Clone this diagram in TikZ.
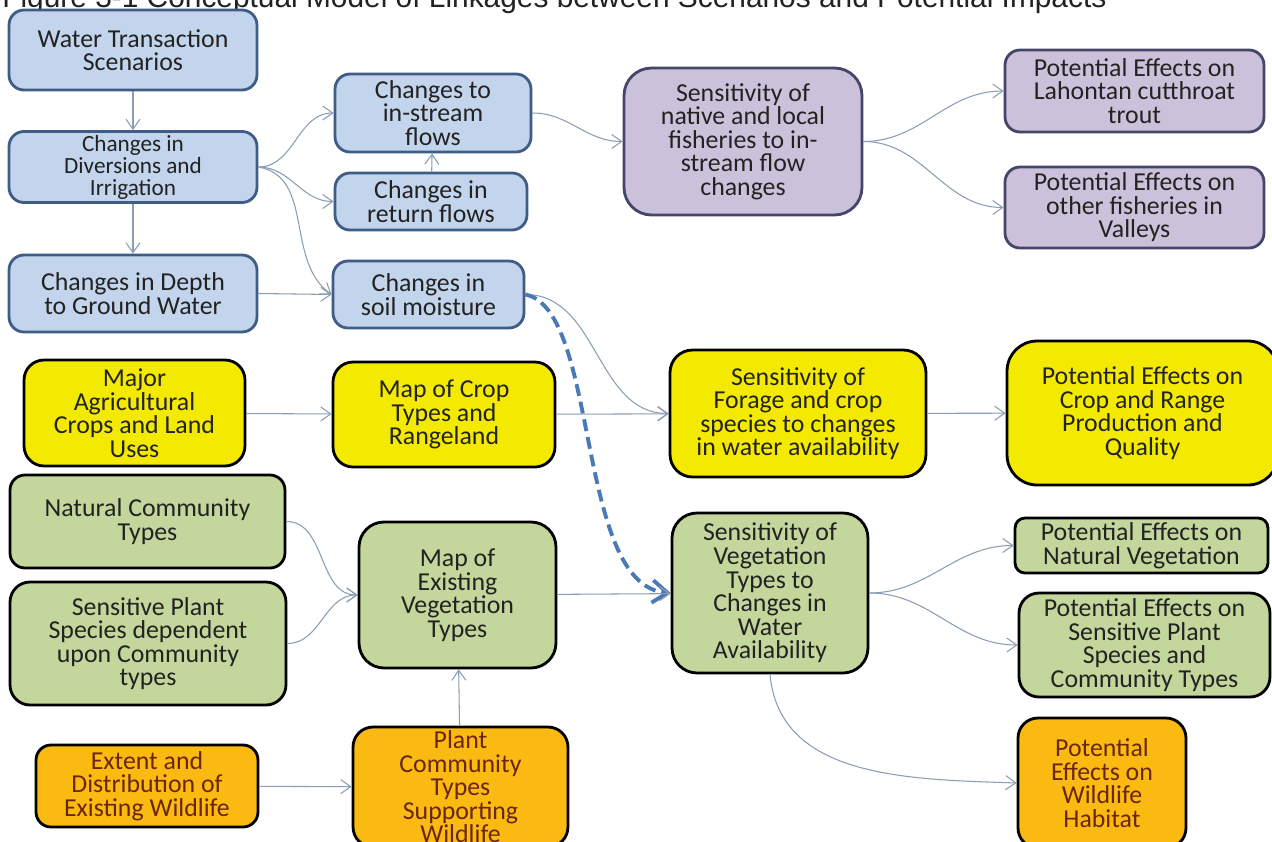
\documentclass[tikz,border=0pt]{standalone}
\usepackage{fontspec}
\setmainfont{Carlito}
\newfontfamily\titlefont{Liberation Sans}
\usepackage{tikz}
\usetikzlibrary{arrows.meta}

\definecolor{blueback}{HTML}{C3D5EC}
\definecolor{blueline}{HTML}{3E5C86}
\definecolor{purpleback}{HTML}{CCC1DA}
\definecolor{purpleline}{HTML}{45456A}
\definecolor{yellowback}{HTML}{F4EA00}
\definecolor{greenback}{HTML}{C3D69B}
\definecolor{orangeback}{HTML}{FABA12}
\definecolor{boxtext}{HTML}{222222}
\definecolor{wildtext}{HTML}{6A2608}
\definecolor{linkgray}{HTML}{8A9DB5}
\definecolor{dashblue}{HTML}{4A79B8}

\newcommand\boxfont{\fontsize{14.7}{13.4}\selectfont\lineskiplimit=-10pt}
\newcommand\smallboxfont{\fontsize{13.2}{12.5}\selectfont\lineskiplimit=-10pt}

\begin{document}
\begin{tikzpicture}[x=0.02cm, y=-0.02cm,
    box/.style={draw, rounded corners=0.3cm, line width=1.6pt, align=center, inner sep=2pt, font=\boxfont},
    bluebox/.style={box, draw=blueline, fill=blueback, text=boxtext},
    purplebox/.style={box, draw=purpleline, fill=purpleback, text=boxtext},
    yellowbox/.style={box, draw=black, fill=yellowback, text=boxtext},
    greenbox/.style={box, draw=black, fill=greenback, text=boxtext},
    orangebox/.style={box, draw=black, fill=orangeback, text=wildtext},
    link/.style={draw=linkgray, line width=0.6pt, -{Straight Barb[length=2mm, width=2.8mm]}},
    dlink/.style={draw=dashblue, line width=2.2pt, dash pattern=on 0.24cm off 0.12cm, -{Straight Barb[length=3mm, width=4.5mm]}}]

    \useasboundingbox [fill=white] (0,0) rectangle (1272,842);

    \node [anchor=base west, inner sep=0, text=boxtext, font=\titlefont\fontsize{17}{20}\selectfont] (title) at (2,7)
        {Figure 3-1 Conceptual Model of Linkages between Scenarios and Potential Impacts};

    \node [bluebox, minimum width=4.96cm, minimum height=1.6cm] (wts) at (133,50) {Water Transaction\\Scenarios};
    \node [bluebox, minimum width=4.96cm, minimum height=1.4cm, font=\smallboxfont] (cdi) at (133,167) {Changes in\\Diversions and\\Irrigation};
    \node [bluebox, minimum width=4.96cm, minimum height=1.54cm] (cdg) at (133,293.5) {Changes in Depth\\to Ground Water};
    \node [bluebox, minimum width=3.92cm, minimum height=1.56cm] (ins) at (433,113) {Changes to\\in-stream\\flows};
    \node [bluebox, minimum width=3.84cm, minimum height=1.14cm] (ret) at (431,201.5) {Changes in\\return flows};
    \node [bluebox, minimum width=3.82cm, minimum height=1.34cm] (soil) at (428.5,294.5) {Changes in\\soil moisture};

    \node [purplebox, rounded corners=0.55cm, minimum width=4.76cm, minimum height=2.94cm] (fish) at (743,141.5)
        {Sensitivity of\\native and local\\fisheries to in-\\stream flow\\changes};
    \node [purplebox, minimum width=5.18cm, minimum height=1.64cm] (lct) at (1134.5,91) {Potential Effects on\\Lahontan cutthroat\\trout};
    \node [purplebox, minimum width=5.18cm, minimum height=1.62cm] (ofv) at (1134.5,207.5) {Potential Effects on\\other fisheries in\\Valleys};

    \node [yellowbox, rounded corners=0.4cm, minimum width=4.42cm, minimum height=2.12cm] (agr) at (134.5,413) {Major\\Agricultural\\Crops and Land\\Uses};
    \node [yellowbox, rounded corners=0.4cm, minimum width=4.44cm, minimum height=2.1cm] (cmap) at (444,414.5) {Map of Crop\\Types and\\Rangeland};
    \node [yellowbox, rounded corners=0.45cm, minimum width=5.12cm, minimum height=2.54cm] (forage) at (798,413.5)
        {Sensitivity of\\Forage and crop\\species to changes\\in water availability};
    \node [yellowbox, rounded corners=0.6cm, minimum width=5.42cm, minimum height=2.88cm] (crp) at (1142.5,413)
        {Potential Effects on\\Crop and Range\\Production and\\Quality};

    \node [greenbox, minimum width=5.5cm, minimum height=1.86cm] (ncom) at (147.5,521.5) {Natural Community\\Types};
    \node [greenbox, rounded corners=0.4cm, minimum width=5.52cm, minimum height=2.46cm] (spl) at (148,643.5)
        {Sensitive Plant\\Species dependent\\upon Community\\types};
    \node [greenbox, rounded corners=0.5cm, minimum width=3.94cm, minimum height=2.92cm] (vmap) at (457.5,595) {Map of\\Existing\\Vegetation\\Types};
    \node [greenbox, rounded corners=0.5cm, minimum width=3.92cm, minimum height=3.2cm] (vsens) at (770,593)
        {Sensitivity of\\Vegetation\\Types to\\Changes in\\Water\\Availability};
    \node [greenbox, rounded corners=0.2cm, minimum width=5.06cm, minimum height=1.1cm] (nveg) at (1141.5,545.5) {Potential Effects on\\Natural Vegetation};
    \node [greenbox, rounded corners=0.4cm, minimum width=5.02cm, minimum height=2.08cm] (speff) at (1144.5,645)
        {Potential Effects on\\Sensitive Plant\\Species and\\Community Types};

    \node [orangebox, minimum width=4.44cm, minimum height=1.64cm] (wext) at (147,786) {Extent and\\Distribution of\\Existing Wildlife};
    \node [orangebox, rounded corners=0.4cm, minimum width=4.3cm, minimum height=2.4cm] (pcom) at (460.5,787)
        {Plant\\Community\\Types\\Supporting\\Wildlife};
    \node [orangebox, rounded corners=0.4cm, minimum width=3.36cm, minimum height=2.6cm] (whab) at (1102,783)
        {Potential\\Effects on\\Wildlife\\Habitat};

    \draw [link] (wts) -- (cdi);
    \draw [link] (cdi) -- (cdg);
    \draw [link] (cdi.east) to[out=0, in=180] (ins.west);
    \draw [link] (cdi.east) to[out=0, in=180] (ret.west);
    \draw [link] (cdi.east) to[out=-10, in=145] (soil.west);
    \draw [link] (cdg.east) -- (soil.west);
    \draw [link] (ret) -- (ins);
    \draw [link] (ins.east) to[out=0, in=180] (fish.west);
    \draw [link] (fish.east) to[out=0, in=180] (lct.west);
    \draw [link] (fish.east) to[out=0, in=180] (ofv.west);

    \draw [link] (soil.east) to[out=0, in=180] (forage.west);
    \draw [dlink] (soil.east) .. controls (600,310) and (575,585) .. (vsens.west);

    \draw [link] (agr) -- (cmap);
    \draw [link] (cmap) -- (forage);
    \draw [link] (forage) -- (crp);

    \draw [link] (ncom.east) to[out=0, in=180] (vmap.west);
    \draw [link] (spl.east) to[out=0, in=180] (vmap.west);
    \draw [link] (vmap) -- (vsens);
    \draw [link] (vsens.east) to[out=0, in=180] (nveg.west);
    \draw [link] (vsens.east) to[out=0, in=180] (speff.west);
    \draw [link] (vsens.south) to[out=-85, in=178] (whab.west);

    \draw [link] (wext) -- (pcom);
    \draw [link] (pcom) -- (vmap);

\end{tikzpicture}
\end{document}
